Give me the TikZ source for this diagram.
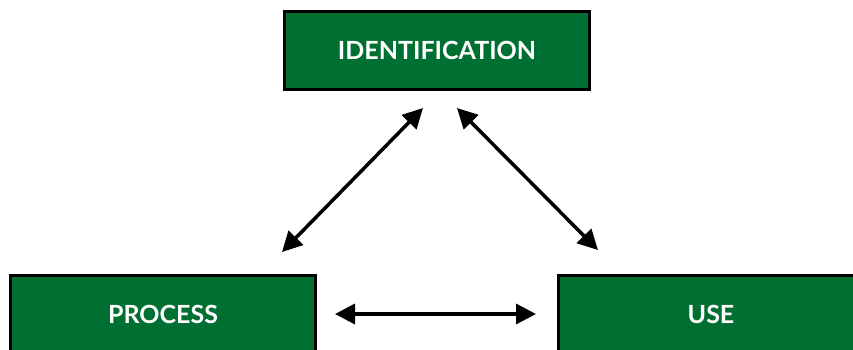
\documentclass[tikz,border=0pt]{standalone}
\usepackage{fontspec}
\setmainfont{Lato}
\usetikzlibrary{arrows.meta}
\definecolor{boxgreen}{RGB}{0,112,50}
\tikzset{
	greenbox/.style={draw=black,line width=3pt,fill=boxgreen,text=white,minimum width=305pt,minimum height=78pt,inner sep=0pt,font=\bfseries\fontsize{25}{30}\selectfont},
	link/.style={<->,line width=3.5pt}
}
\begin{document}
\begin{tikzpicture}[x=1pt,y=-1pt,>={Triangle[length=20pt,width=20pt]}]
	\clip (0,0) rectangle (853,349);
	\node[greenbox] (ident) at (437,50.5) {IDENTIFICATION};
	\node[greenbox] (process) at (163,314.5) {PROCESS};
	\node[greenbox] (use) at (711,314.5) {USE};
	\coordinate (pa) at (282,252);
	\coordinate (ia) at (423,108);
	\coordinate (ib) at (457,108);
	\coordinate (ua) at (598,250);
	\coordinate (pb) at (335,314);
	\coordinate (ub) at (536,314);
	\draw [link] (pa) -- (ia);
	\draw [link] (ib) -- (ua);
	\draw [link] (pb) -- (ub);
\end{tikzpicture}
\end{document}
